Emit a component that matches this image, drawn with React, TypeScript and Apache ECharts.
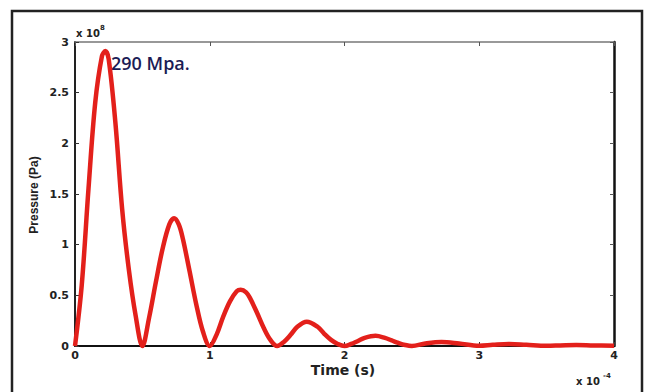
import React, { useEffect, useRef } from "react";
import * as echarts from "echarts";

// time in units of 1e-4 s
const timeValues = [
  0, 0.05, 0.1, 0.15, 0.2, 0.225, 0.25, 0.3, 0.35, 0.4, 0.45, 0.5,
  0.55, 0.6, 0.65, 0.7, 0.735, 0.77, 0.8, 0.85, 0.9, 0.95, 1.0,
  1.05, 1.1, 1.15, 1.2, 1.23, 1.27, 1.3, 1.35, 1.4, 1.45, 1.5,
  1.55, 1.6, 1.65, 1.72, 1.8, 1.85, 1.9, 1.95, 2.0,
  2.05, 2.1, 2.15, 2.23, 2.3, 2.35, 2.4, 2.45, 2.5,
  2.6, 2.72, 2.85, 3.0,
  3.1, 3.22, 3.35, 3.5, 3.6, 3.72, 3.85, 4.0,
];
// pressure in units of 1e8 Pa
const pressureValues = [
  0, 0.6, 1.55, 2.4, 2.86, 2.91, 2.83, 2.2, 1.35, 0.75, 0.3, 0,
  0.28, 0.63, 0.96, 1.2, 1.26, 1.2, 1.06, 0.74, 0.41, 0.14, 0,
  0.11, 0.29, 0.44, 0.54, 0.555, 0.53, 0.47, 0.33, 0.18, 0.06, 0,
  0.04, 0.11, 0.19, 0.24, 0.19, 0.12, 0.06, 0.02, 0,
  0.02, 0.05, 0.08, 0.1, 0.08, 0.055, 0.03, 0.01, 0,
  0.025, 0.04, 0.025, 0.003,
  0.012, 0.02, 0.012, 0.003, 0.006, 0.01, 0.005, 0.003,
];

const xTicks = ["0", "1", "2", "3", "4"];
const yTicks = ["0", "0.5", "1", "1.5", "2", "2.5", "3"];

const xTitle = "Time (s)";
const yTitle = "Pressure (Pa)";
const annotation = "290 Mpa.";

export default function App() {
  const ref = useRef<HTMLDivElement>(null);
  useEffect(() => {
    if (!ref.current) return;
    const chart = echarts.init(ref.current, undefined, { renderer: "svg" });
    const labelFont = {
      fontFamily: "DejaVu Sans",
      fontWeight: "bold" as const,
      fontSize: 11,
      color: "#222",
    };
    const data = timeValues.map((t, i) => [t, pressureValues[i]]);
    chart.setOption({
      animation: false,
      backgroundColor: "#fff",
      grid: { left: 75, top: 42, right: 32, bottom: 46 },
      xAxis: [
        {
          type: "value",
          min: 0,
          max: 4,
          interval: 1,
          position: "bottom",
          axisLine: { show: true, onZero: false, lineStyle: { color: "#111", width: 2 } },
          axisTick: { show: true, inside: true, length: 4, lineStyle: { color: "#333" } },
          splitLine: { show: false },
          axisLabel: {
            ...labelFont,
            margin: 4,
            formatter: (v: number) => xTicks[Math.round(v)] ?? "",
          },
        },
        {
          type: "value",
          min: 0,
          max: 4,
          interval: 1,
          position: "top",
          axisLine: { show: true, onZero: false, lineStyle: { color: "#777", width: 1.5 } },
          axisTick: { show: true, inside: true, length: 4, lineStyle: { color: "#555" } },
          splitLine: { show: false },
          axisLabel: { show: false },
        },
      ],
      yAxis: [
        {
          type: "value",
          min: 0,
          max: 3,
          interval: 0.5,
          position: "left",
          axisLine: { show: true, onZero: false, lineStyle: { color: "#222", width: 2 } },
          axisTick: { show: true, inside: true, length: 4, lineStyle: { color: "#333" } },
          splitLine: { show: false },
          axisLabel: {
            ...labelFont,
            margin: 6,
            formatter: (v: number) => yTicks[Math.round(v * 2)] ?? "",
          },
        },
        {
          type: "value",
          min: 0,
          max: 3,
          interval: 0.5,
          position: "right",
          axisLine: { show: true, onZero: false, lineStyle: { color: "#111", width: 2.5 } },
          axisTick: { show: true, inside: true, length: 4, lineStyle: { color: "#555" } },
          splitLine: { show: false },
          axisLabel: { show: false },
        },
      ],
      series: [
        {
          type: "line",
          data,
          xAxisIndex: 0,
          yAxisIndex: 0,
          showSymbol: false,
          smooth: 0.35,
          clip: false,
          lineStyle: { color: "#e3201b", width: 4.5 },
          z: 1,
        },
      ],
      graphic: [
        {
          type: "rect",
          shape: { x: 12, y: 11, width: 630, height: 400 },
          style: { fill: "none", stroke: "#222", lineWidth: 2.5 },
          silent: true,
        },
        {
          type: "text",
          x: 111,
          y: 63,
          style: {
            text: annotation,
            fontFamily: "Open Sans",
            fontWeight: 600,
            fontSize: 18,
            fill: "#1c1c55",
            textVerticalAlign: "middle",
          },
        },
        {
          type: "text",
          x: 343,
          y: 370,
          style: {
            text: xTitle,
            fontFamily: "DejaVu Sans",
            fontWeight: "bold",
            fontSize: 14,
            fill: "#222",
            textAlign: "center",
            textVerticalAlign: "middle",
          },
        },
        {
          type: "text",
          x: 34,
          y: 195,
          rotation: Math.PI / 2,
          style: {
            text: yTitle,
            fontFamily: "Liberation Sans",
            fontWeight: "bold",
            fontSize: 12,
            fill: "#222",
            textAlign: "center",
            textVerticalAlign: "middle",
          },
        },
        {
          type: "text",
          x: 76,
          y: 33,
          style: {
            text: "x 10",
            fontFamily: "DejaVu Sans",
            fontWeight: "bold",
            fontSize: 10,
            fill: "#222",
            textVerticalAlign: "middle",
          },
        },
        {
          type: "text",
          x: 100,
          y: 28,
          style: {
            text: "8",
            fontFamily: "DejaVu Sans",
            fontWeight: "bold",
            fontSize: 7,
            fill: "#222",
            textVerticalAlign: "middle",
          },
        },
        {
          type: "text",
          x: 576,
          y: 381,
          style: {
            text: "x 10",
            fontFamily: "DejaVu Sans",
            fontWeight: "bold",
            fontSize: 10,
            fill: "#222",
            textVerticalAlign: "middle",
          },
        },
        {
          type: "text",
          x: 603,
          y: 376,
          style: {
            text: "-4",
            fontFamily: "DejaVu Sans",
            fontWeight: "bold",
            fontSize: 7,
            fill: "#222",
            textVerticalAlign: "middle",
          },
        },
      ],
    });
    return () => chart.dispose();
  }, []);
  return (
    <div
      ref={ref}
      style={{ position: "fixed", left: 0, top: 0, width: 646, height: 392 }}
    />
  );
}
